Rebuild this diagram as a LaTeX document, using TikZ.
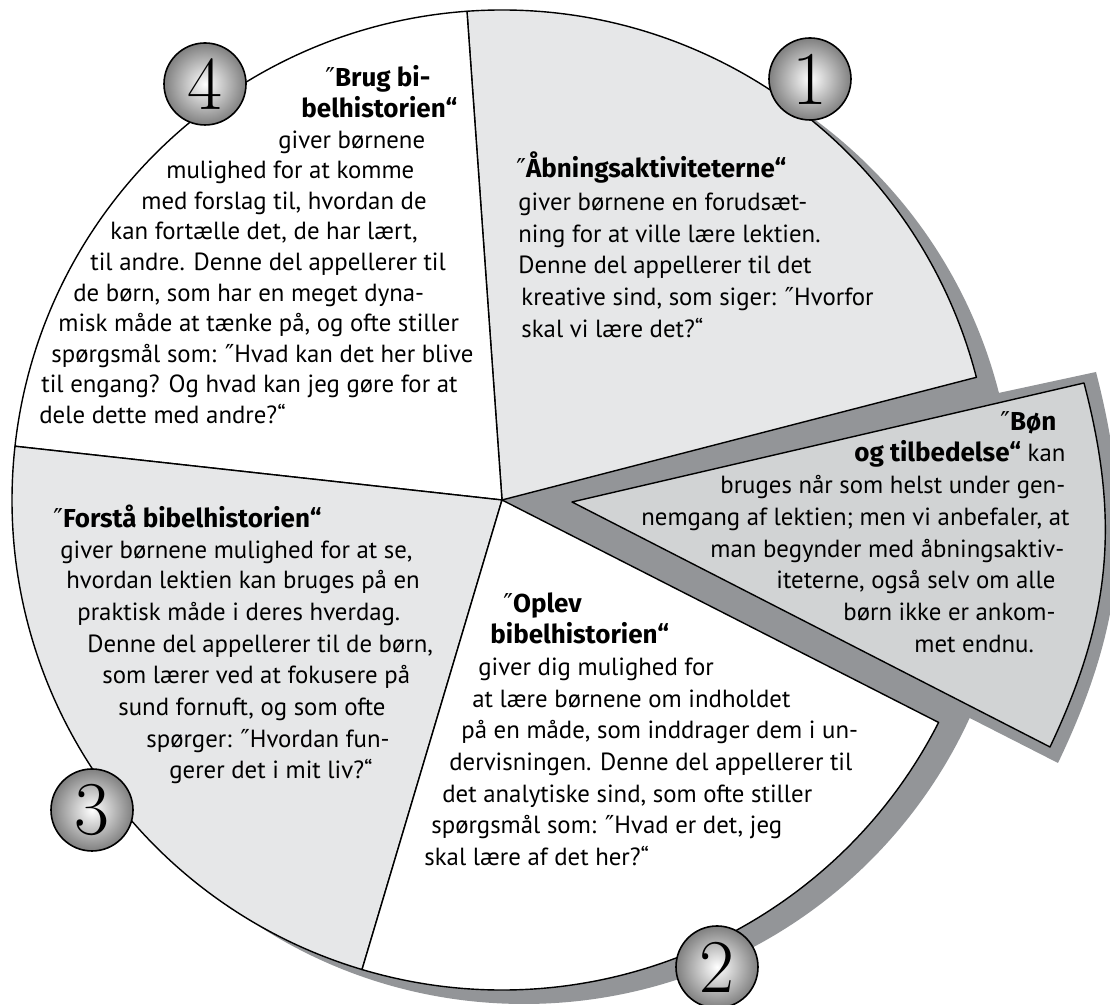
\documentclass[tikz,border=0pt]{standalone}
\usepackage{fontspec}
\usepackage{tikz}
\newfontfamily\ptsans{PT Sans}
\newfontfamily\headfont{Fira Sans}
\newfontfamily\primefont{DejaVu Sans}
\newcommand{\oq}{{\primefont\mdseries ″}} % opening mark, PT Sans has none
\definecolor{slicegray}{HTML}{E6E7E8}
\definecolor{wedgegray}{HTML}{D1D3D4}
\definecolor{shadowgray}{HTML}{939598}

\begin{document}
\begin{tikzpicture}[
            x = 0.5pt, y = 0.5pt, % one unit = one pixel of the sketch
            line join = round,
            piece/.style = {draw=black, line width=0.7pt},
            badge/.style = {shape=circle, draw=black, line width=0.8pt, shade,
                inner color=white, outer color=black!50,
                minimum size=41pt, inner sep=0pt, font=\fontsize{38}{38}\selectfont},
            txt/.style = {anchor=base west, inner sep=0pt, font=\ptsans\fontsize{12.4}{14}\selectfont},
            head/.style = {txt, font=\headfont\bfseries\fontsize{13}{14}\selectfont}
        ]
\useasboundingbox (0,0) rectangle (1110,1005);

\coordinate (C) at (502,505); % centre of the wheel
\coordinate (SA) at (530,511); % tip of the shadow of the loose piece
\coordinate (W) at (572,503); % tip of the loose piece

% shadows
\fill[shadowgray] (524,491) circle[radius=490];
\fill[shadowgray] (SA) -- (1096,633) to[bend left=20] (1058,242) -- cycle;

% the four pieces
\filldraw[piece, fill=slicegray] (C) -- ++(14.5:490) arc[start angle=14.5, end angle=94.1, radius=490] -- cycle;
\filldraw[piece, fill=white] (C) -- ++(94.1:490) arc[start angle=94.1, end angle=173.7, radius=490] -- cycle;
\filldraw[piece, fill=slicegray] (C) -- ++(173.7:490) arc[start angle=173.7, end angle=253.4, radius=490] -- cycle;
\filldraw[piece, fill=white] (C) -- ++(253.4:490) arc[start angle=253.4, end angle=333, radius=490] -- cycle;

% the loose piece
\filldraw[piece, fill=wedgegray] (W) -- (1084,622) to[bend left=20] (1050,258) -- cycle;

% number badges
\node[badge] (B1) at (810,926) {1};
\node[badge] (B2) at (717,38) {2};
\node[badge] (B3) at (92,195) {3};
\node[badge] (B4) at (205,921) {4};

% piece 1
\node[head] (ab1) at (516,827) {\oq Åbningsaktiviteterne“};
\node[txt] (ab2) at (518,794) {giver børnene en forudsæt-};
\node[txt] (ab3) at (518,762) {ning for at ville lære lektien.};
\node[txt] (ab4) at (518,731) {Denne del appellerer til det};
\node[txt] (ab5) at (521,699) {kreative sind, som siger: \oq Hvorfor};
\node[txt] (ab6) at (521,667) {skal vi lære det?“};

% loose piece
\node[head] (bo1) at (1000,574) {\oq Bøn};
\node[txt] (bo2) at (854,543) {{\headfont\bfseries\fontsize{13}{14}\selectfont og tilbedelse“} kan};
\node[txt] (bo3) at (720,511) {bruges når som helst under gen-};
\node[txt] (bo4) at (641,479) {nemgang af lektien; men vi anbefaler, at};
\node[txt] (bo5) at (710,447) {man begynder med åbningsaktiv-};
\node[txt] (bo6) at (776,416) {iteterne, også selv om alle};
\node[txt] (bo7) at (843,384) {børn ikke er ankom-};
\node[txt] (bo8) at (914,352) {met endnu.};

% piece 2
\node[head] (op1) at (503,392) {\oq Oplev};
\node[head] (op2) at (490,361) {bibelhistorien“};
\node[txt] (op3) at (478,329) {giver dig mulighed for};
\node[txt] (op4) at (472,297) {at lære børnene om indholdet};
\node[txt] (op5) at (461,266) {på en måde, som inddrager dem i un-};
\node[txt] (op6) at (449,234) {dervisningen. Denne del appellerer til};
\node[txt] (op7) at (442,202) {det analytiske sind, som ofte stiller};
\node[txt] (op8) at (431,171) {spørgsmål som: \oq Hvad er det, jeg};
\node[txt] (op9) at (424,139) {skal lære af det her?“};

% piece 3
\node[head] (fo1) at (53,477) {\oq Forstå bibelhistorien“};
\node[txt] (fo2) at (60,446) {giver børnene mulighed for at se,};
\node[txt] (fo3) at (66,416) {hvordan lektien kan bruges på en};
\node[txt] (fo4) at (77,384) {praktisk måde i deres hverdag.};
\node[txt] (fo5) at (87,352) {Denne del appellerer til de børn,};
\node[txt] (fo6) at (102,321) {som lærer ved at fokusere på};
\node[txt] (fo7) at (118,289) {sund fornuft, og som ofte};
\node[txt] (fo8) at (146,257) {spørger: \oq Hvordan fun-};
\node[txt] (fo9) at (169,226) {gerer det i mit liv?“};

% piece 4
\node[head] (br1) at (325,918) {\oq Brug bi-};
\node[head] (br2) at (301,887) {belhistorien“};
\node[txt] (br3) at (278,856) {giver børnene};
\node[txt] (br4) at (166,826) {mulighed for at komme};
\node[txt] (br5) at (141,795) {med forslag til, hvordan de};
\node[txt] (br6) at (110,765) {kan fortælle det, de har lært,};
\node[txt] (br7) at (90,734) {til andre. Denne del appellerer til};
\node[txt] (br8) at (73,703) {de børn, som har en meget dyna-};
\node[txt] (br9) at (58,673) {misk måde at tænke på, og ofte stiller};
\node[txt] (br10) at (51,642) {spørgsmål som: \oq Hvad kan det her blive};
\node[txt] (br11) at (41,612) {til engang? Og hvad kan jeg gøre for at};
\node[txt] (br12) at (39,581) {dele dette med andre?“};
\end{tikzpicture}
\end{document}
